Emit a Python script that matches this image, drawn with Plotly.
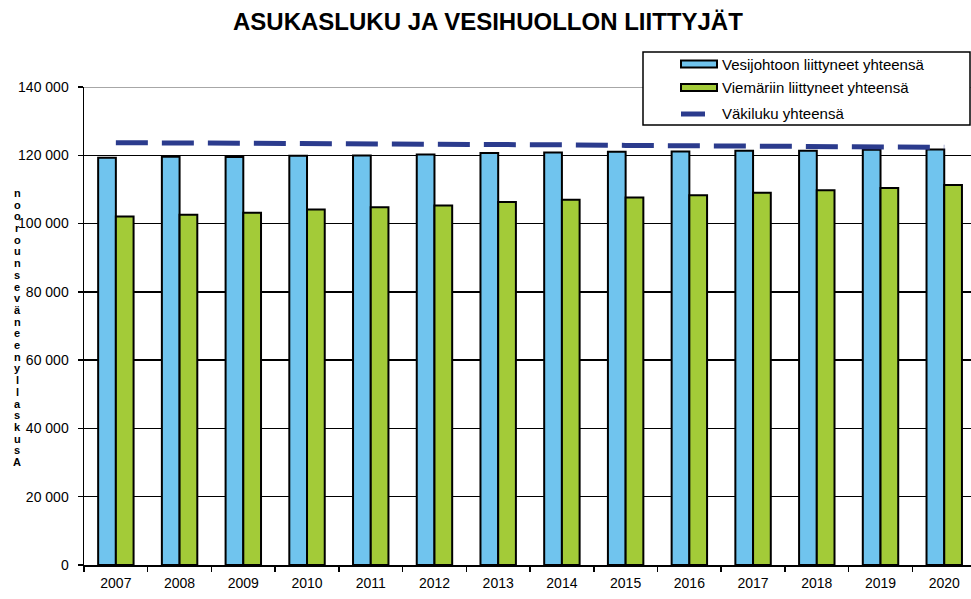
import plotly.graph_objects as go

years = ["2007", "2008", "2009", "2010", "2011", "2012", "2013",
         "2014", "2015", "2016", "2017", "2018", "2019", "2020"]
vesijohto = [119300, 119600, 119500, 119900, 119950, 120200, 120700,
             120800, 121000, 121100, 121300, 121350, 121600, 121700]
viemari = [102100, 102550, 103150, 104150, 104800, 105300, 106300,
           107000, 107600, 108300, 109050, 109750, 110450, 111300]
vakiluku = [123700, 123650, 123550, 123300, 123250, 123200, 123100,
            123050, 122900, 122850, 122800, 122700, 122500, 122350]
y_tickvals = [0, 20000, 40000, 60000, 80000, 100000, 120000, 140000]
y_ticktext = ["0", "20 000", "40 000", "60 000", "80 000", "100 000", "120 000", "140 000"]
names = ["Vesijohtoon liittyneet yhteensä", "Viemäriin liittyneet yhteensä", "Väkiluku yhteensä"]
title_text = "ASUKASLUKU JA VESIHUOLLON LIITTYJÄT"
ytitle_letters = ["n", "o", "o", "r", "o", "u", "n", "s", "e", "v", "ä", "n",
                  "e", "e", "n", "y", "l", "l", "a", "s", "k", "u", "s", "A"]

BLUE = "#70C4EE"
GREEN = "#A3CB38"
NAVY = "#2B3B8D"
FONT = "Liberation Sans, Arial, sans-serif"

W, H = 971, 599
ML, MR, MT, MB = 84, 0, 87, 34
PW, PH = W - ML - MR, H - MT - MB


def px(x):
    return (x - ML) / PW


def py(y):
    return (H - MB - y) / PH


fig = go.Figure()
fig.add_trace(go.Bar(x=years, y=vesijohto, name=names[0],
                     marker=dict(color=BLUE, line=dict(color="black", width=2))))
fig.add_trace(go.Bar(x=years, y=viemari, name=names[1],
                     marker=dict(color=GREEN, line=dict(color="black", width=2))))
fig.add_trace(go.Scatter(x=years, y=vakiluku, name=names[2], mode="lines",
                         line=dict(color=NAVY, width=5, dash="32px,14px")))

shapes = []
annotations = []

# top gridline (greyish in the reference)
shapes.append(dict(type="line", xref="paper", yref="y", x0=0, x1=1, y0=140000, y1=140000,
                   line=dict(color="#8A8A8A", width=1.5), layer="above"))

# custom legend
shapes.append(dict(type="rect", xref="paper", yref="paper",
                   x0=px(643), x1=px(970), y0=py(125), y1=py(52),
                   line=dict(color="black", width=1.5), fillcolor="white", layer="above"))
shapes.append(dict(type="rect", xref="paper", yref="paper",
                   x0=px(681), x1=px(717), y0=py(67.5), y1=py(60.5),
                   line=dict(color="black", width=2), fillcolor=BLUE, layer="above"))
shapes.append(dict(type="rect", xref="paper", yref="paper",
                   x0=px(681), x1=px(717), y0=py(91), y1=py(84),
                   line=dict(color="black", width=2), fillcolor=GREEN, layer="above"))
shapes.append(dict(type="line", xref="paper", yref="paper",
                   x0=px(681), x1=px(705), y0=py(114), y1=py(114),
                   line=dict(color=NAVY, width=5), layer="above"))
for name, yy in zip(names, [64, 87, 114]):
    annotations.append(dict(text=name, xref="paper", yref="paper", x=px(720), y=py(yy),
                            xanchor="left", yanchor="middle", showarrow=False,
                            font=dict(family=FONT, size=15, color="black")))

# garbled vertical y-axis title, one letter per annotation
top, bottom = 193, 462
n = len(ytitle_letters)
for i, ch in enumerate(ytitle_letters):
    yy = top + (bottom - top) * i / (n - 1)
    annotations.append(dict(text="<b>" + ch + "</b>", xref="paper", yref="paper",
                            x=px(17), y=py(yy), xanchor="center", yanchor="middle",
                            showarrow=False,
                            font=dict(family=FONT, size=11, color="black")))

# title
annotations.append(dict(text="<b>" + title_text + "</b>", xref="paper", yref="paper",
                        x=px(488), y=py(22), xanchor="center", yanchor="middle",
                        showarrow=False, font=dict(family=FONT, size=24, color="black")))

fig.update_layout(
    width=W, height=H,
    margin=dict(l=ML, r=MR, t=MT, b=MB, pad=0),
    paper_bgcolor="white", plot_bgcolor="white",
    barmode="group", bargap=0.444, bargroupgap=0,
    showlegend=False,
    shapes=shapes, annotations=annotations,
    font=dict(family=FONT, size=14, color="black"),
)
fig.update_xaxes(type="category", range=[-0.5, 13.42], showline=True, linecolor="black",
                 linewidth=1.5, ticks="outside", tickson="boundaries", ticklen=5,
                 tickcolor="black", tickwidth=1.5, showgrid=False, ticklabelstandoff=5,
                 tickfont=dict(family=FONT, size=14, color="black"))
fig.update_yaxes(range=[0, 140000], tickvals=y_tickvals, ticktext=y_ticktext,
                 showline=True, linecolor="black", linewidth=1.5, ticks="outside",
                 ticklen=5, tickcolor="black", tickwidth=1.5, ticklabelstandoff=6,
                 showgrid=True, gridcolor="black", gridwidth=1.5, zeroline=False,
                 tickfont=dict(family=FONT, size=14, color="black"))

fig.write_html("out.html", config={"displayModeBar": False, "staticPlot": True})

# remove the default page margin so the figure sits at the window's top-left corner
with open("out.html", "r", encoding="utf-8") as f:
    html = f.read()
html = html.replace("<body>", '<body style="margin:0;padding:0;overflow:hidden">', 1)
with open("out.html", "w", encoding="utf-8") as f:
    f.write(html)
